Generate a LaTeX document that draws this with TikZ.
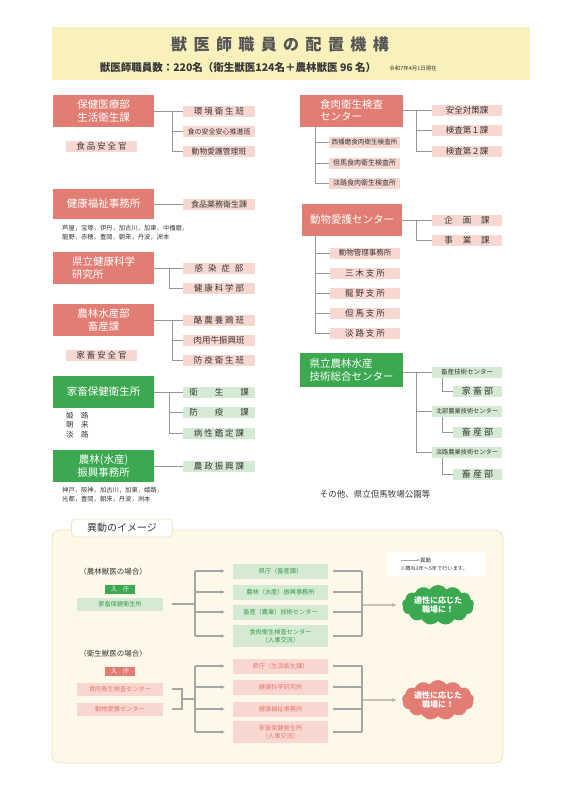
\documentclass[tikz,border=0pt]{standalone}
\usepackage{fontspec}
\setmainfont{Noto Sans CJK JP}
\usetikzlibrary{arrows.meta, shapes.symbols, positioning}
\definecolor{hred}{RGB}{225, 125, 115}
\definecolor{hpink}{RGB}{249, 215, 209}
\definecolor{hgreen}{RGB}{60, 168, 80}
\definecolor{hlgreen}{RGB}{213, 234, 210}
\definecolor{banner}{RGB}{248, 241, 187}
\definecolor{panel}{RGB}{253, 248, 231}
\definecolor{panelline}{RGB}{240, 228, 185}
\definecolor{lineg}{RGB}{150, 150, 150}
\definecolor{txt}{RGB}{55, 55, 55}
\definecolor{ptext}{RGB}{228, 120, 110}
\definecolor{gtext}{RGB}{55, 155, 75}
\tikzset{
    org/.style={rectangle, fill=hred, text=white, align=center, font=\fontsize{10.5}{12.5}\selectfont, minimum width=101, minimum height=32, inner sep=1pt},
    orgg/.style={org, fill=hgreen},
    unit/.style={rectangle, fill=hpink, text=txt, align=center, font=\fontsize{8.5}{10}\selectfont, minimum width=72, minimum height=11, inner sep=0pt},
    unitg/.style={unit, fill=hlgreen},
    note/.style={text=txt, align=left, inner sep=0pt},
    link/.style={draw=lineg, line width=0.9pt},
    flow/.style={draw=lineg!85, line width=1.2pt},
    arr/.style={flow, -{Stealth[length=4pt, width=3.5pt]}},
    move/.style={rectangle, minimum width=95, minimum height=15, inner sep=0pt, align=center, font=\fontsize{6.2}{7.5}\selectfont},
    moveg/.style={move, fill=hlgreen, text=gtext},
    mover/.style={move, fill=hpink, text=ptext},
    entry/.style={rectangle, text=white, minimum width=30, minimum height=9, inner sep=0pt, font=\fontsize{6}{7}\selectfont},
    goal/.style={cloud, cloud puffs=13, cloud puff arc=110, aspect=2.1, text=white, align=center, font=\fontsize{8}{9.5}\selectfont\bfseries, minimum width=72, minimum height=38, inner sep=0pt}
}
\begin{document}
\begin{tikzpicture}[x=1pt, y=-1pt]
\useasboundingbox (0,0) rectangle (561,800);
\fill[banner] (52,27) rectangle (530,80);
\node[text=txt!85, font=\fontsize{16}{18}\selectfont\bfseries\addfontfeature{LetterSpace=40}] (title) at (280,44) {獣医師職員の配置機構};
\node[text=txt, font=\fontsize{10.5}{12}\selectfont\bfseries] (staff) at (238,68) {獣医師職員数：220名（衛生獣医124名＋農林獣医 96 名）};
\node[text=txt, font=\fontsize{5.5}{6}\selectfont, right=6pt of staff] (date) {令和7年4月1日現在};

\node[org] (seikatsu) at (103.5,111) {保健医療部\\生活衛生課};
\node[unit] (kankyo) at (219,111) {環 境 衛 生 班};
\node[unit, font=\fontsize{7}{8}\selectfont] (anshin) at (219,131.5) {食の安全安心推進班};
\node[unit, font=\fontsize{7.8}{9}\selectfont] (aigohan) at (219,151.5) {動物愛護管理班};
\node[unit, minimum width=71] (shokuhinkan) at (101.5,146.5) {食 品 安 全 官};
\draw[link] (seikatsu) -- (kankyo);
\draw[link] ([xshift=-10pt]kankyo.west) |- (anshin.west) ([xshift=-10pt]kankyo.west) |- (aigohan.west);

\node[org, minimum height=30] (fukushi) at (103.5,204) {健康福祉事務所};
\node[unit, font=\fontsize{8}{9}\selectfont] (yakumu) at (219,204) {食品薬務衛生課};
\draw[link] (fukushi) -- (yakumu);
\node[note, anchor=north west, font=\fontsize{6.3}{9}\selectfont] (fukushilist) at (62,225) {芦屋，宝塚，伊丹，加古川，加東，中播磨，\\龍野，赤穂，豊岡，朝来，丹波，洲本};

\node[org, align=left] (kagaku) at (103.5,268) {県立健康科学\\研究所};
\node[unit] (kansen) at (219,268) {感\hspace{5pt}染\hspace{5pt}症\hspace{5pt}部};
\node[unit] (kenkabu) at (219,288) {健 康 科 学 部};
\draw[link] (kagaku) -- (kansen);
\draw[link] ([xshift=-13pt]kansen.west) |- (kenkabu.west);

\node[org] (chikusan) at (103.5,320) {農林水産部\\畜産課};
\node[unit] (rakuno) at (219,320) {酪 農 養 鶏 班};
\node[unit] (nikuyo) at (219,340) {肉用牛振興班};
\node[unit] (boekihan) at (219,360) {防 疫 衛 生 班};
\node[unit, minimum width=71] (kachikukan) at (101.5,355) {家 畜 安 全 官};
\draw[link] (chikusan) -- (rakuno);
\draw[link] ([xshift=-10pt]rakuno.west) |- (nikuyo.west) ([xshift=-10pt]rakuno.west) |- (boekihan.west);

\node[orgg] (kaho) at (103.5,392) {家畜保健衛生所};
\node[unitg] (eisei) at (219,392) {衛\hspace{17pt}生\hspace{17pt}課};
\node[unitg] (boeki) at (219,412.5) {防\hspace{17pt}疫\hspace{17pt}課};
\node[unitg] (byosei) at (219,433) {病 性 鑑 定 課};
\draw[link] (kaho) -- (eisei);
\draw[link] ([xshift=-13pt]eisei.west) |- (boeki.west) ([xshift=-13pt]eisei.west) |- (byosei.west);
\node[note, anchor=north west, font=\fontsize{7.5}{9.5}\selectfont] (kahoplace) at (66,411.5) {姫\quad 路\\朝\quad 来\\淡\quad 路};

\node[orgg] (shinko) at (103.5,466) {農林(水産)\\振興事務所};
\node[unitg] (nosei) at (219,466) {農 政 振 興 課};
\draw[link] (shinko) -- (nosei);
\node[note, anchor=north west, font=\fontsize{6.3}{9}\selectfont] (shinkolist) at (62,487) {神戸，阪神，加古川，加東，姫路，\\光都，豊岡，朝来，丹波，洲本};

\node[org, minimum width=103, align=left] (shokuniku) at (351.5,110.5) {食肉衛生検査\\センター};
\node[unit, minimum width=70] (anzen) at (467,110.5) {安全対策課};
\node[unit, minimum width=70] (kensa1) at (467,130.5) {検査第１課};
\node[unit, minimum width=70] (kensa2) at (467,151) {検査第２課};
\draw[link] (shokuniku) -- (anzen);
\draw[link] ([xshift=-15pt]anzen.west) |- (kensa1.west) ([xshift=-15pt]anzen.west) |- (kensa2.west);
\node[unit, minimum width=71, font=\fontsize{6.6}{8}\selectfont] (harima) at (364.5,142) {西播磨食肉衛生検査所};
\node[unit, minimum width=71, font=\fontsize{7}{8}\selectfont] (tajimak) at (364.5,163) {但馬食肉衛生検査所};
\node[unit, minimum width=71, font=\fontsize{7}{8}\selectfont] (awajik) at (364.5,183) {淡路食肉衛生検査所};
\draw[link] ([xshift=-36.5pt]shokuniku.south) |- (harima.west) ([xshift=-36.5pt]shokuniku.south) |- (tajimak.west) ([xshift=-36.5pt]shokuniku.south) |- (awajik.west);

\node[org, minimum width=100] (aigo) at (352,220) {動物愛護センター};
\node[unit, minimum width=70] (kikaku) at (467,220) {企\hspace{10pt}画\hspace{10pt}課};
\node[unit, minimum width=70] (jigyo) at (467,240) {事\hspace{10pt}業\hspace{10pt}課};
\draw[link] (aigo) -- (kikaku);
\draw[link] ([xshift=-15pt]kikaku.west) |- (jigyo.west);
\node[unit, minimum width=70, font=\fontsize{7.5}{9}\selectfont] (kanri) at (365,253) {動物管理事務所};
\node[unit, minimum width=70] (miki) at (365,273) {三 木 支 所};
\node[unit, minimum width=70] (tatsuno) at (365,293) {龍 野 支 所};
\node[unit, minimum width=70] (tajimas) at (365,313) {但 馬 支 所};
\node[unit, minimum width=70] (awajis) at (365,333) {淡 路 支 所};
\draw[link] ([xshift=-37pt]aigo.south) |- (kanri.west) ([xshift=-37pt]aigo.south) |- (miki.west) ([xshift=-37pt]aigo.south) |- (tatsuno.west) ([xshift=-37pt]aigo.south) |- (tajimas.west) ([xshift=-37pt]aigo.south) |- (awajis.west);

\node[orgg, minimum width=103, minimum height=34, align=left] (nogiken) at (351.5,370) {県立農林水産\\技術総合センター};
\node[unitg, minimum width=70, font=\fontsize{6.5}{8}\selectfont] (chikugi) at (467,372) {畜産技術センター};
\node[unitg, minimum width=70, font=\fontsize{6.2}{8}\selectfont] (hokubu) at (467,411) {北部農業技術センター};
\node[unitg, minimum width=70, font=\fontsize{6.2}{8}\selectfont] (awajigi) at (467,452) {淡路農業技術センター};
\node[unitg, minimum width=49, font=\fontsize{9}{10}\selectfont] (kachikubu) at (477.5,391) {家 畜 部};
\node[unitg, minimum width=49, font=\fontsize{9}{10}\selectfont] (chikusanA) at (477.5,432) {畜 産 部};
\node[unitg, minimum width=49, font=\fontsize{9}{10}\selectfont] (chikusanB) at (477.5,474) {畜 産 部};
\draw[link] (nogiken.east |- chikugi) -- (chikugi);
\draw[link] ([xshift=-15pt]chikugi.west) |- (hokubu.west) ([xshift=-15pt]chikugi.west) |- (awajigi.west);
\draw[link] ([xshift=-25pt]chikugi.south) |- (kachikubu.west);
\draw[link] ([xshift=-25pt]hokubu.south) |- (chikusanA.west);
\draw[link] ([xshift=-25pt]awajigi.south) |- (chikusanB.west);
\node[text=txt, font=\fontsize{8.5}{10}\selectfont] (sonota) at (375,494) {その他、県立但馬牧場公園等};

\draw[panelline, fill=panel, line width=0.8pt, rounded corners=8pt] (52,530) rectangle (503,763);
\node[draw=panelline, fill=white, line width=0.8pt, rounded corners=4pt, text=txt, font=\fontsize{10}{12}\selectfont, minimum width=101, minimum height=18] (tab) at (122,528) {異動のイメージ};

\fill[white] (387,552) rectangle (485,576);
\coordinate (legA) at (401,560);
\node[text=txt, anchor=west, inner sep=0pt, font=\fontsize{5.5}{6}\selectfont] (legtext) at (420,560) {異動};
\draw[flow, line width=0.8pt, -{Stealth[length=3pt, width=2.5pt]}] (legA) -- (legtext.west);
\node[text=txt, anchor=west, inner sep=0pt, font=\fontsize{5.2}{6}\selectfont] (legnote) at (400,569) {※概ね3年～5年で行います。};

\node[text=txt, font=\fontsize{7.5}{9}\selectfont] (nolabel) at (113,572) {（農林獣医の場合）};
\node[entry, fill=hgreen] (nyuA) at (120,589) {入\hspace{6pt}庁};
\node[moveg, minimum width=86, minimum height=13] (kahoB) at (120,604) {家畜保健衛生所};
\node[moveg] (kenchoA) at (280.5,571) {県庁（畜産課）};
\node[moveg] (shinkoB) at (280.5,592) {農林（水産）振興事務所};
\node[moveg] (gikenB) at (280.5,612) {畜産（農業）技術センター};
\node[moveg, minimum height=22] (shokunikuB) at (280.5,636) {食肉衛生検査センター\\（人事交流）};
\coordinate (ljoinA) at (195,604);
\coordinate (rjoinA) at (362,605);
\draw[flow] ([xshift=9pt]kahoB.east) -- (ljoinA);
\draw[flow] (ljoinA |- kenchoA) -- (ljoinA |- shokunikuB);
\draw[arr] (ljoinA |- kenchoA) -- ([xshift=-8pt]kenchoA.west);
\draw[arr] (ljoinA |- shinkoB) -- ([xshift=-8pt]shinkoB.west);
\draw[arr] (ljoinA |- gikenB) -- ([xshift=-8pt]gikenB.west);
\draw[arr] (ljoinA |- shokunikuB) -- ([xshift=-8pt]shokunikuB.west);
\draw[flow] ([xshift=5pt]kenchoA.east) -- (rjoinA |- kenchoA);
\draw[flow] ([xshift=5pt]shinkoB.east) -- (rjoinA |- shinkoB);
\draw[flow] ([xshift=5pt]gikenB.east) -- (rjoinA |- gikenB);
\draw[flow] ([xshift=5pt]shokunikuB.east) -- (rjoinA |- shokunikuB);
\draw[flow] (rjoinA |- kenchoA) -- (rjoinA |- shokunikuB);
\node[goal, fill=hgreen] (goalA) at (438,605) {適性に応じた\\職場に！};
\draw[arr] (rjoinA) -- ([xshift=-6pt]goalA.west);

\node[text=txt, font=\fontsize{7.5}{9}\selectfont] (eilabel) at (113,654) {（衛生獣医の場合）};
\node[entry, fill=hred] (nyuB) at (120,671) {入\hspace{6pt}庁};
\node[mover, minimum width=86, minimum height=13] (shokunikuC) at (120,689) {食肉衛生検査センター};
\node[mover, minimum width=86, minimum height=13] (aigoC) at (120,709) {動物愛護センター};
\node[mover] (kenchoB) at (280.5,666) {県庁（生活衛生課）};
\node[mover] (kagakuC) at (280.5,687) {健康科学研究所};
\node[mover] (fukushiC) at (280.5,709) {健康福祉事務所};
\node[mover, minimum height=22] (kahoC) at (280.5,732) {家畜保健衛生所\\（人事交流）};
\coordinate (bjoin) at (182,699);
\coordinate (ljoinB) at (195,699);
\coordinate (rjoinB) at (362,700);
\draw[flow] ([xshift=9pt]shokunikuC.east) -| (bjoin);
\draw[flow] ([xshift=9pt]aigoC.east) -| (bjoin);
\draw[flow] (bjoin) -- (ljoinB);
\draw[flow] (ljoinB |- kenchoB) -- (ljoinB |- kahoC);
\draw[arr] (ljoinB |- kenchoB) -- ([xshift=-8pt]kenchoB.west);
\draw[arr] (ljoinB |- kagakuC) -- ([xshift=-8pt]kagakuC.west);
\draw[arr] (ljoinB |- fukushiC) -- ([xshift=-8pt]fukushiC.west);
\draw[arr] (ljoinB |- kahoC) -- ([xshift=-8pt]kahoC.west);
\draw[flow] ([xshift=5pt]kenchoB.east) -- (rjoinB |- kenchoB);
\draw[flow] ([xshift=5pt]kagakuC.east) -- (rjoinB |- kagakuC);
\draw[flow] ([xshift=5pt]fukushiC.east) -- (rjoinB |- fukushiC);
\draw[flow] ([xshift=5pt]kahoC.east) -- (rjoinB |- kahoC);
\draw[flow] (rjoinB |- kenchoB) -- (rjoinB |- kahoC);
\node[goal, fill=hred] (goalB) at (438,700) {適性に応じた\\職場に！};
\draw[arr] (rjoinB) -- ([xshift=-6pt]goalB.west);
\end{tikzpicture}
\end{document}
